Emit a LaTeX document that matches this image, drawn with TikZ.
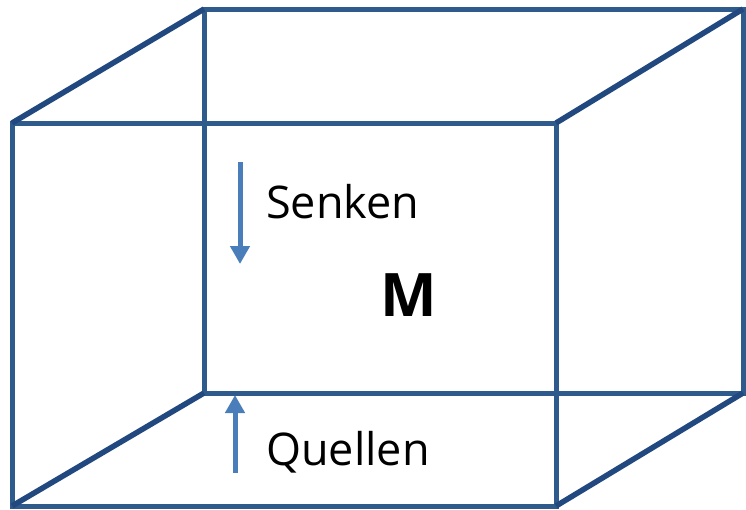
\documentclass[tikz,border=0pt]{standalone}
\usepackage{fontspec}
\setmainfont{Open Sans}
\usetikzlibrary{arrows.meta}
\definecolor{edge}{HTML}{2F5A8C}
\definecolor{diag}{HTML}{22497F}
\definecolor{flow}{HTML}{4A7EBB}
\begin{document}
\begin{tikzpicture}[x=1pt,y=-1pt,
  cubeedge/.style={draw=edge,line width=5pt},
  cubediag/.style={draw=diag,line width=5.5pt},
  flowarrow/.style={draw=flow,line width=5pt,-{Triangle[length=18pt,width=19pt]}},
  lbl/.style={inner sep=0pt,anchor=base west,font=\fontsize{45}{54}\selectfont},
  mass/.style={inner sep=0pt,anchor=base west,font=\fontsize{60}{72}\selectfont\bfseries}]
\useasboundingbox (0,0) rectangle (746,509);
% front face
\coordinate (f1) at (12,123);
\coordinate (f2) at (556,123);
\coordinate (f3) at (556,506);
\coordinate (f4) at (12,506);
% back face
\coordinate (b1) at (204,9);
\coordinate (b2) at (743,9);
\coordinate (b3) at (743,393);
\coordinate (b4) at (204,393);
\draw[cubeedge] (b1) -- (b2) -- (b3) -- (b4) -- cycle;
\draw[cubeedge] (f1) -- (f2) -- (f3) -- (f4) -- cycle;
\draw[cubediag] (f1) -- (b1);
\draw[cubediag] (f2) -- (b2);
\draw[cubediag] (f3) -- (b3);
\draw[cubediag] (f4) -- (b4);
% labels
\node[lbl] (senken) at (266,218) {Senken};
\node[lbl] (quellen) at (266,465) {Quellen};
\node[mass] (m) at (380,316) {M};
% arrows
\coordinate (s0) at (240,162);
\coordinate (s1) at (240,264);
\coordinate (q0) at (235,473);
\coordinate (q1) at (235,395);
\draw[flowarrow] (s0) -- (s1);
\draw[flowarrow] (q0) -- (q1);
\end{tikzpicture}
\end{document}
